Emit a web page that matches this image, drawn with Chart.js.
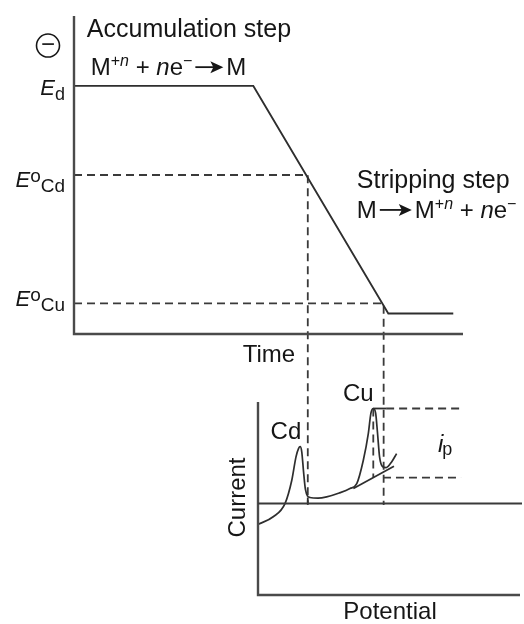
<!DOCTYPE html>
<html>
<head>
<meta charset="utf-8">
<script src="https://cdn.jsdelivr.net/npm/chart.js@4.4.0/dist/chart.umd.min.js"></script>
<style>
body{margin:0;background:#fff;}
#wrap{position:relative;width:524px;height:624px;}
canvas{position:absolute;left:0;top:0;}
</style>
</head>
<body>
<div id="wrap">
<canvas id="topChart" width="524" height="624"></canvas>
<canvas id="bottomChart" width="524" height="624"></canvas>
</div>
<script>
// potential program: time vs applied potential (arbitrary units)
const rampTime = [0, 4.61, 8.08, 9.75];
const rampPotential = [7.8, 7.8, 0.645, 0.645];
const levelPotential = [5.0, 0.96];   // E°Cd, E°Cu
const levelTime = [6.01, 7.96];       // where the ramp passes them
const edPotential = 7.8;
const dropTo = -5.38;                 // projections run down to the voltammogram baseline

// stripping voltammogram: potential vs current (arbitrary units)
const scanPotential = [0.01, 0.58, 1.03, 1.29, 1.45, 1.55, 1.61, 1.67, 1.74, 1.81, 1.98, 2.29, 2.62, 3.10, 3.51, 3.77, 4.02, 4.21, 4.31, 4.40, 4.49, 4.56, 4.64, 4.76, 4.89, 5.10, 5.29];
const scanCurrent = [-1.02, -0.65, 0.00, 1.15, 2.30, 2.72, 2.80, 2.55, 1.55, 0.70, 0.30, 0.27, 0.33, 0.52, 0.74, 0.98, 2.13, 3.44, 4.45, 4.68, 4.45, 3.50, 2.30, 1.81, 1.77, 2.05, 2.46];
const backgroundPotential = [3.64, 5.19];
const backgroundCurrent = [0.74, 1.84];
const cdFoot = [1.90, 0.30];          // potential, current where the Cd peak ends
const cuPeak = [4.40, 4.68, 1.28];    // potential, peak current, background current
const ipEnd = 7.75;

const INK = '#2e2e2e';
const FONT = '"Liberation Sans", Arial, sans-serif';

function pts(xs, ys){
    return xs.map((x,i)=>({x:x, y:ys[i]}));
}
function line(data, dashed, extra){
    return Object.assign({
        data: data,
        showLine: true,
        borderColor: INK,
        borderWidth: 1.8,
        borderDash: dashed ? [8,5] : [],
        pointRadius: 0,
        tension: 0,
        clip: false
    }, extra || {});
}

// draws a run of text pieces (italic / sub / sup / arrow) from one baseline
function drawRuns(ctx, x, y, runs, align){
    let w = 0;
    runs.forEach(r=>{
        if(r.arrow){ r.w = r.arrow; }
        else {
            ctx.font = (r.it ? 'italic ' : '') + (r.size||24) + 'px ' + FONT;
            r.w = ctx.measureText(r.t).width + (r.dx||0);
        }
        w += r.w;
    });
    let cx = align=='right' ? x-w : align=='center' ? x-w/2 : x;
    ctx.fillStyle = '#161616';
    ctx.textAlign = 'left';
    ctx.textBaseline = 'alphabetic';
    runs.forEach(r=>{
        if(r.arrow){
            const ay = y-8;
            ctx.strokeStyle = '#161616';
            ctx.lineWidth = 1.8;
            ctx.beginPath(); ctx.moveTo(cx+3, ay); ctx.lineTo(cx+r.w-12, ay); ctx.stroke();
            ctx.beginPath();
            ctx.moveTo(cx+r.w-16, ay-6); ctx.lineTo(cx+r.w-3, ay); ctx.lineTo(cx+r.w-16, ay+6); ctx.lineTo(cx+r.w-13, ay);
            ctx.closePath(); ctx.fill();
        } else {
            ctx.font = (r.it ? 'italic ' : '') + (r.size||24) + 'px ' + FONT;
            ctx.fillText(r.t, cx + (r.dx||0), y + (r.dy||0));
        }
        cx += r.w;
    });
}

const topLabels = {
    id: 'topLabels',
    afterDraw(chart){
        const ctx = chart.ctx, a = chart.chartArea;
        const xs = chart.scales.x, ys = chart.scales.y;
        ctx.save();
        ctx.strokeStyle = '#4a4a4a'; ctx.lineWidth = 2.4;
        ctx.beginPath();
        ctx.moveTo(a.left, a.top); ctx.lineTo(a.left, a.bottom); ctx.lineTo(a.right, a.bottom);
        ctx.stroke();

        // negative-potential sign: a circle round a minus
        const cx = a.left-26, cy = ys.getPixelForValue(9.07);
        ctx.strokeStyle = '#161616'; ctx.lineWidth = 1.6;
        ctx.beginPath(); ctx.arc(cx, cy, 11.5, 0, Math.PI*2); ctx.stroke();
        ctx.fillStyle = '#161616';
        ctx.font = '24px ' + FONT;
        ctx.textAlign = 'center'; ctx.textBaseline = 'middle';
        ctx.fillText('\u2212', cx, cy);

        drawRuns(ctx, xs.getPixelForValue(0.33), ys.getPixelForValue(9.34), [{t:'Accumulation step', size:25}]);
        drawRuns(ctx, xs.getPixelForValue(0.43), ys.getPixelForValue(8.14), [
            {t:'M'}, {t:'+', size:16, dy:-9}, {t:'n', size:16, it:true, dy:-9},
            {t:' + '}, {t:'n', it:true}, {t:'e'}, {t:'\u2212', size:16, dy:-9}, {arrow:34}, {t:'M'}]);
        drawRuns(ctx, xs.getPixelForValue(7.27), ys.getPixelForValue(4.59), [{t:'Stripping step', size:25}]);
        drawRuns(ctx, xs.getPixelForValue(7.27), ys.getPixelForValue(3.65), [
            {t:'M'}, {arrow:38}, {t:'M'}, {t:'+', size:16, dy:-9}, {t:'n', size:16, it:true, dy:-9},
            {t:' + '}, {t:'n', it:true}, {t:'e'}, {t:'\u2212', size:16, dy:-9}]);
        drawRuns(ctx, xs.getPixelForValue(5.01), ys.getPixelForValue(-0.87), [{t:'Time'}], 'center');

        const lx = a.left-9;
        drawRuns(ctx, lx, ys.getPixelForValue(edPotential)+9, [{t:'E', it:true, size:22}, {t:'d', size:18, dy:5}], 'right');
        drawRuns(ctx, lx, ys.getPixelForValue(levelPotential[0])+12, [{t:'E', it:true, size:22}, {t:'o', size:19, dy:-5}, {t:'Cd', size:19, dy:5}], 'right');
        drawRuns(ctx, lx, ys.getPixelForValue(levelPotential[1])+3, [{t:'E', it:true, size:22}, {t:'o', size:19, dy:-5}, {t:'Cu', size:19, dy:5}], 'right');
        ctx.restore();
    }
};

const bottomLabels = {
    id: 'bottomLabels',
    afterDraw(chart){
        const ctx = chart.ctx, a = chart.chartArea;
        const xs = chart.scales.x, ys = chart.scales.y;
        ctx.save();
        ctx.strokeStyle = '#4a4a4a'; ctx.lineWidth = 2.4;
        ctx.beginPath();
        ctx.moveTo(a.left, a.top); ctx.lineTo(a.left, a.bottom); ctx.lineTo(a.right, a.bottom);
        ctx.stroke();
        ctx.strokeStyle = '#3a3a3a'; ctx.lineWidth = 2;
        ctx.beginPath();
        ctx.moveTo(a.left, ys.getPixelForValue(0)); ctx.lineTo(a.right+2, ys.getPixelForValue(0));
        ctx.stroke();

        drawRuns(ctx, xs.getPixelForValue(0.48), ys.getPixelForValue(3.2), [{t:'Cd'}]);
        drawRuns(ctx, xs.getPixelForValue(3.24), ys.getPixelForValue(5.03), [{t:'Cu'}]);
        drawRuns(ctx, xs.getPixelForValue(6.87), ys.getPixelForValue(2.56), [{t:'i', it:true}, {t:'p', size:18, dy:3, dx:-1}]);
        drawRuns(ctx, xs.getPixelForValue(5.04), ys.getPixelForValue(-5.7), [{t:'Potential'}], 'center');

        ctx.translate(a.left-20, ys.getPixelForValue(0.3));
        ctx.rotate(-Math.PI/2);
        ctx.font = '24px ' + FONT;
        ctx.fillStyle = '#161616';
        ctx.textAlign = 'center'; ctx.textBaseline = 'middle';
        ctx.fillText('Current', 0, 0);
        ctx.restore();
    }
};

function baseOptions(pad, xr, yr){
    return {
        responsive: false,
        animation: false,
        devicePixelRatio: 1,
        layout: {padding: pad},
        plugins: {legend: {display:false}, tooltip: {enabled:false}},
        scales: {
            x: {type:'linear', display:false, min:xr[0], max:xr[1]},
            y: {type:'linear', display:false, min:yr[0], max:yr[1]}
        }
    };
}

const topDatasets = [
    line(pts(rampTime, rampPotential), false),
    line([{x:0, y:levelPotential[0]}, {x:levelTime[0], y:levelPotential[0]}, {x:levelTime[0], y:dropTo}], true, {borderColor:'#3a3a3a'}),
    line([{x:0, y:levelPotential[1]}, {x:levelTime[1], y:levelPotential[1]}, {x:levelTime[1], y:dropTo}], true, {borderColor:'#3a3a3a'})
];

new Chart(document.getElementById('topChart'), {
    type: 'scatter',
    data: {datasets: topDatasets},
    options: baseOptions({left:74, right:61, top:16, bottom:290}, [0,10], [0,10]),
    plugins: [topLabels]
});

const bottomDatasets = [
    line(pts(scanPotential, scanCurrent), false, {cubicInterpolationMode:'monotone', borderWidth:1.7}),
    line(pts(backgroundPotential, backgroundCurrent), false, {borderWidth:1.7}),
    line([{x:cdFoot[0], y:cdFoot[1]}, {x:cdFoot[0], y:0}], false),
    line([{x:cuPeak[0], y:cuPeak[1]}, {x:4.89, y:cuPeak[1]}], false),
    line([{x:4.89, y:cuPeak[1]}, {x:ipEnd, y:cuPeak[1]}], true, {borderColor:'#3a3a3a'}),
    line([{x:cuPeak[0], y:cuPeak[1]}, {x:cuPeak[0], y:cuPeak[2]}], true, {borderColor:'#3a3a3a'}),
    line([{x:4.77, y:cuPeak[2]}, {x:ipEnd, y:cuPeak[2]}], true, {borderColor:'#3a3a3a'})
];

new Chart(document.getElementById('bottomChart'), {
    type: 'scatter',
    data: {datasets: bottomDatasets},
    options: baseOptions({left:258, right:4, top:402, bottom:29}, [0,10], [-4.5,5]),
    plugins: [bottomLabels]
});
</script>
</body>
</html>
